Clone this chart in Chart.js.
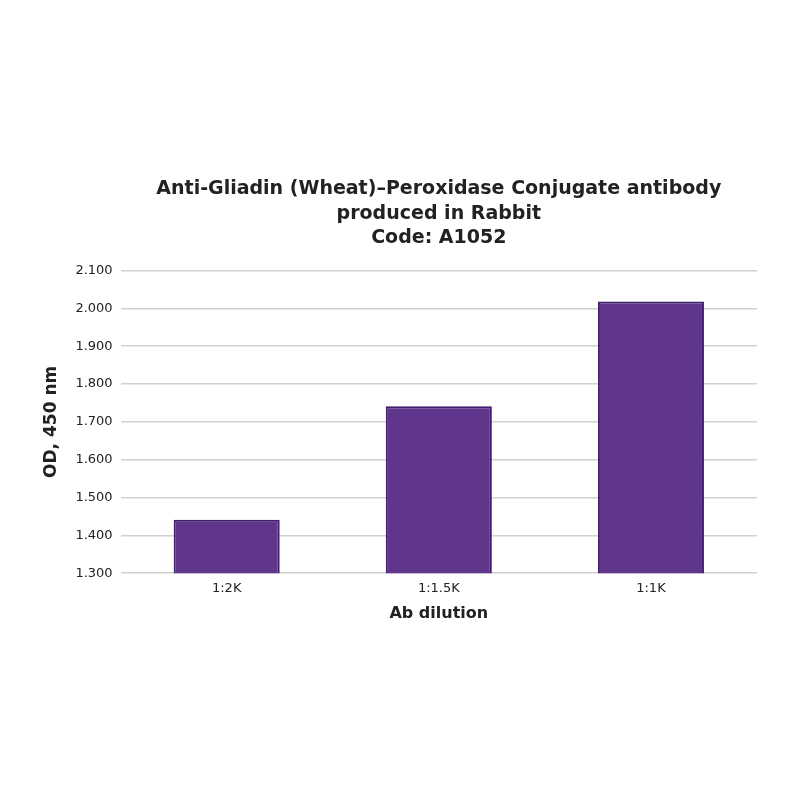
<!DOCTYPE html>
<html lang="en">
  <head>
    <meta charset="UTF-8" />
    <title>Anti-Gliadin ELISA</title>
    <style>
      html, body { margin: 0; padding: 0; background: #fff; }
    </style>
  </head>
  <body>
    <script src="https://cdn.jsdelivr.net/npm/chart.js"></script>
    <canvas id="bar-chart" width="800" height="800"></canvas>

    <script>
      const dilutions = ['1:2K', '1:1.5K', '1:1K']
      const odValues = [1.441, 1.741, 2.018]
      const titleLines = [
        'Anti-Gliadin (Wheat)\u2013Peroxidase Conjugate antibody',
        'produced in Rabbit',
        'Code: A1052',
      ]

      const font = "'DejaVu Sans', Verdana, sans-serif"

      new Chart(document.getElementById('bar-chart'), {
        type: 'bar',
        data: {
          labels: dilutions,
          datasets: [
            {
              label: 'OD, 450 nm',
              data: odValues,
              backgroundColor: '#5f368c',
              borderColor: '#3f1f6a',
              borderWidth: 2,
              borderSkipped: false,
              categoryPercentage: 1,
              barPercentage: 0.5,
            },
          ],
        },
        options: {
          responsive: false,
          animation: false,
          layout: { padding: { top: 177, bottom: 177, left: 37, right: 43 } },
          plugins: {
            legend: { display: false },
            tooltip: { enabled: false },
            title: {
              display: true,
              fullSize: false,
              text: titleLines,
              color: '#222',
              font: { family: font, size: 19, weight: 'bold', lineHeight: 1.29 },
              padding: { top: 0, bottom: 20 },
            },
          },
          scales: {
            x: {
              grid: { display: false },
              border: { display: false },
              ticks: { color: '#222', font: { family: font, size: 13 }, padding: 0 },
              title: {
                display: true,
                text: 'Ab dilution',
                color: '#222',
                font: { family: font, size: 16, weight: 'bold' },
                padding: { top: 7, bottom: 0 },
              },
            },
            y: {
              min: 1.3,
              max: 2.1,
              grid: { color: '#d0d0d0', lineWidth: 1.5, drawTicks: false },
              border: { display: false },
              ticks: {
                stepSize: 0.1,
                color: '#222',
                font: { family: font, size: 13 },
                padding: 8,
                callback: (v) => v.toFixed(3),
              },
              title: {
                display: true,
                text: 'OD, 450 nm',
                color: '#222',
                font: { family: font, size: 17, weight: 'bold' },
                padding: { bottom: 6 },
              },
            },
          },
        },
      })
    </script>
  </body>
</html>
